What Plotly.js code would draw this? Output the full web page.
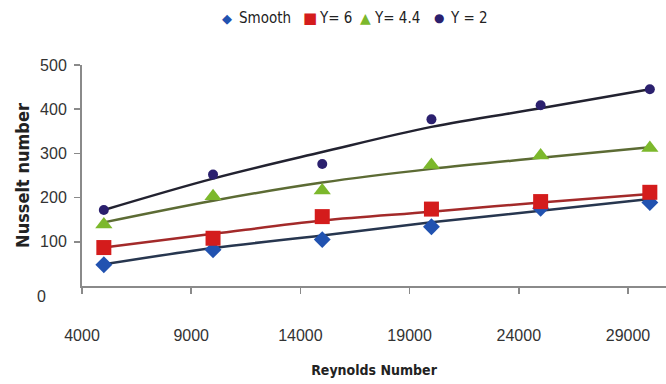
<!DOCTYPE html>
<html>
<head>
<meta charset="utf-8">
<script src="https://cdn.plot.ly/plotly-3.0.1.min.js"></script>
<style>html,body{margin:0;padding:0;background:#fff;}#chart{width:666px;height:384px;}</style>
</head>
<body>
<div id="chart"></div>
<script>
// Data
const reynolds = [5000, 10000, 15000, 20000, 25000, 30000];
const seriesNames = ["Smooth", "Y= 6", "Y= 4.4", "Y = 2"];
const seriesColors = ["#2152b0", "#d41c1c", "#7cb82c", "#2b206e"];
const legendGlyphs = ["\u25C6", "\u25A0", "\u25B2", "\u25CF"];
const nuSmooth = [48, 82, 105, 134, 176, 189];
const nuY6 = [87, 108, 157, 174, 191, 212];
const nuY44 = [139, 203, 216, 274, 295, 312];
const nuY2 = [172, 252, 276, 377, 409, 445];
// Trend lines at the same Reynolds numbers
const trendSmooth = [49, 86, 114, 144, 170, 197];
const trendY6 = [87, 118, 148, 168, 189, 208];
const trendY44 = [144, 193, 234, 265, 290, 314];
const trendY2 = [172, 243, 303, 360, 402, 445];
const xTicks = [4000, 9000, 14000, 19000, 24000, 29000];
const yTicks = [100, 200, 300, 400, 500];

const lineStyle = (c) => ({color: c, width: 2.5, shape: 'spline'});
const traces = [
  {x: reynolds, y: trendSmooth, mode: 'lines', line: lineStyle('#27364f'), showlegend: false, hoverinfo: 'skip'},
  {x: reynolds, y: trendY6, mode: 'lines', line: lineStyle('#a32a2a'), showlegend: false, hoverinfo: 'skip'},
  {x: reynolds, y: trendY44, mode: 'lines', line: lineStyle('#5c6b34'), showlegend: false, hoverinfo: 'skip'},
  {x: reynolds, y: trendY2, mode: 'lines', line: lineStyle('#222230'), showlegend: false, hoverinfo: 'skip'},
  {x: reynolds, y: nuSmooth, name: seriesNames[0], mode: 'markers', marker: {symbol: 'diamond', size: 13, color: seriesColors[0]}},
  {x: reynolds, y: nuY6, name: seriesNames[1], mode: 'markers', marker: {symbol: 'square', size: 15, color: seriesColors[1]}},
  {x: reynolds, y: nuY44, name: seriesNames[2], mode: 'markers', marker: {symbol: 'triangle-up', size: 15, color: seriesColors[2]}},
  {x: reynolds, y: nuY2, name: seriesNames[3], mode: 'markers', marker: {symbol: 'circle', size: 10, color: seriesColors[3]}}
];

// Legend drawn as a row of text items above the plot (symbol hugging its label, like the original)
const PL = 82, PW = 584, PB = 286, PH = 221;
const px2x = (px) => (px - PL) / PW;
const py2y = (py) => (PB - py) / PH;
const legendSymX = [227, 310, 365, 439];
const legendTextX = [237, 317, 372, 448];
const legendSymSize = [13, 15, 14, 12];
const legendY = 18;
const annotations = [];
seriesNames.forEach((name, i) => {
  annotations.push({xref: 'paper', yref: 'paper', x: px2x(legendSymX[i]), y: py2y(legendY), text: legendGlyphs[i],
    showarrow: false, xanchor: 'center', yanchor: 'middle',
    font: {family: 'DejaVu Sans, sans-serif', size: legendSymSize[i], color: seriesColors[i]}});
  annotations.push({xref: 'paper', yref: 'paper', x: px2x(legendTextX[i]), y: py2y(legendY), text: name,
    showarrow: false, xanchor: 'left', yanchor: 'middle',
    font: {family: 'DejaVu Sans Condensed, DejaVu Sans, sans-serif', size: 15, color: '#222'}});
});
annotations.push({xref: 'paper', yref: 'paper', x: px2x(48), y: py2y(296), text: '0', showarrow: false,
  xanchor: 'right', yanchor: 'middle', font: {size: 16, color: '#333'}});

const layout = {
  width: 666, height: 384,
  margin: {l: 82, r: 0, t: 65, b: 98},
  paper_bgcolor: '#fff', plot_bgcolor: '#fff',
  font: {family: 'Liberation Sans, Arial, sans-serif', color: '#333', size: 16},
  showlegend: false,
  xaxis: {
    range: [4000, 30740], tickvals: xTicks, ticktext: xTicks.map(String),
    showgrid: false, zeroline: false, showline: true, linecolor: '#8a8a8a', linewidth: 2,
    ticks: 'outside', ticklen: 6, tickcolor: '#8a8a8a', tickwidth: 1.5,
    ticklabelstandoff: 28,
    tickfont: {size: 16, color: '#333'},
    title: {text: 'Reynolds Number', font: {family: 'DejaVu Sans Condensed, DejaVu Sans, sans-serif', size: 14, color: '#222', weight: 'bold'}, standoff: 22}
  },
  yaxis: {
    range: [0, 500], tickvals: yTicks, ticktext: yTicks.map(String),
    showgrid: false, zeroline: false, showline: true, linecolor: '#8a8a8a', linewidth: 2,
    ticks: 'outside', ticklen: 6, tickcolor: '#8a8a8a', tickwidth: 1.5,
    ticklabelstandoff: 4,
    tickfont: {size: 16, color: '#333'},
    title: {text: 'Nusselt number', font: {family: 'DejaVu Sans Condensed, DejaVu Sans, sans-serif', size: 18, color: '#222', weight: 'bold'}, standoff: 6}
  },
  annotations: annotations
};

Plotly.newPlot('chart', traces, layout, {displayModeBar: false, staticPlot: true});
</script>
</body>
</html>
